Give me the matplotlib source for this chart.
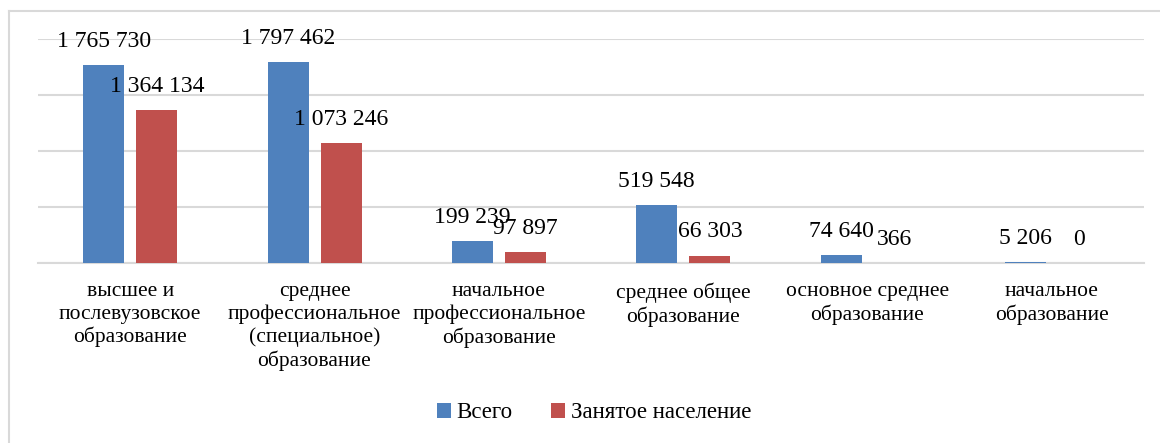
import matplotlib.pyplot as plt
import numpy as np
from matplotlib.lines import Line2D

plt.rcParams['font.family'] = ['Liberation Serif', 'DejaVu Serif']

categories = [
    "высшее и\nпослевузовское\nобразование",
    "среднее\nпрофессиональное\n(специальное)\nобразование",
    "начальное\nпрофессиональное\nобразование",
    "среднее общее\nобразование",
    "основное среднее\nобразование",
    "начальное\nобразование",
]
total = [1765730, 1797462, 199239, 519548, 74640, 5206]
employed = [1364134, 1073246, 97897, 66303, 366, 0]
series_names = ["Всего", "Занятое население"]


def fmt(v):
    return f"{v:,}".replace(",", " ")


fig = plt.figure(figsize=(11.6, 4.43), dpi=100)
# chart area frame: only the top and left edges fall inside the image
fx, fy = 8.5 / 1160, 1 - 10.5 / 443
fig.add_artist(Line2D([fx, 1], [fy, fy], transform=fig.transFigure,
                      color="#d9d9d9", linewidth=1.5))
fig.add_artist(Line2D([fx, fx], [0, fy], transform=fig.transFigure,
                      color="#d9d9d9", linewidth=1.5))

ax = fig.add_axes([38 / 1160, 1 - 263 / 443, (1144 - 38) / 1160, (263 - 39) / 443])

x = np.arange(len(categories))
w = 0.222
b1 = ax.bar(x - 0.143, total, w, color="#4f81bd", label=series_names[0], zorder=3)
b2 = ax.bar(x + 0.145, employed, w, color="#c0504d", label=series_names[1], zorder=3)

for bars, vals in ((b1, total), (b2, employed)):
    for bar, v in zip(bars, vals):
        ax.annotate(fmt(v), (bar.get_x() + bar.get_width() / 2, v),
                    xytext=(0, 17), textcoords="offset points",
                    ha="center", va="center", fontsize=17, zorder=4)

ax.set_xlim(-0.5, len(categories) - 0.5)
ax.set_ylim(0, 2000000)
ax.set_yticks(np.arange(0, 2000001, 500000))
ax.yaxis.grid(True, color="#d9d9d9", linewidth=1.5, zorder=0)
ax.tick_params(axis="y", left=False, labelleft=False)
ax.tick_params(axis="x", length=0, pad=14, labelsize=15.5)
ax.set_xticks(x)
ax.set_xticklabels(categories, linespacing=1.22, va="top")
for side in ("top", "right", "left"):
    ax.spines[side].set_visible(False)
ax.spines["bottom"].set_color("#d9d9d9")
ax.spines["bottom"].set_linewidth(1.5)

fig.legend(loc="center", bbox_to_anchor=(594 / 1160, 1 - 413 / 443), ncol=2, frameon=False,
           fontsize=16.5, handlelength=0.6, handleheight=0.6, handletextpad=0.25,
           columnspacing=1.7)

fig.savefig("out.png", dpi=100)
